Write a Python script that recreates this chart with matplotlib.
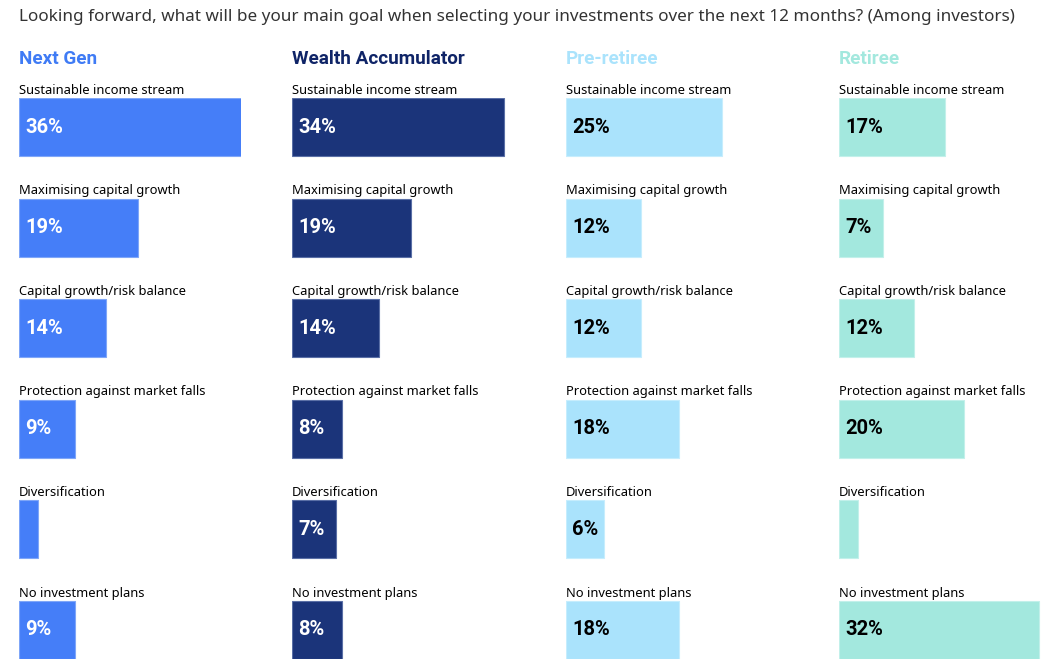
import matplotlib
matplotlib.use("Agg")
import matplotlib.pyplot as plt

plt.rcParams['font.family'] = ['Noto Sans', 'DejaVu Sans']

title = "Looking forward, what will be your main goal when selecting your investments over the next 12 months? (Among investors)"
categories = ["Sustainable income stream", "Maximising capital growth", "Capital growth/risk balance",
              "Protection against market falls", "Diversification", "No investment plans"]
segments = ["Next Gen", "Wealth Accumulator", "Pre-retiree", "Retiree"]
next_gen = [36, 19, 14, 9, 3, 9]
wealth_acc = [34, 19, 14, 8, 7, 8]
pre_retiree = [25, 12, 12, 18, 6, 18]
retiree = [17, 7, 12, 20, 3, 32]
values = [next_gen, wealth_acc, pre_retiree, retiree]

bar_colors = ["#457EF8", "#1B347A", "#AAE3FC", "#A3E8DE"]
edge_colors = ["#7FA6F8", "#5A6FA6", "#C6EDFD", "#C2F0EA"]
head_colors = ["#3F7BF5", "#0F2467", "#AAE3FC", "#A3E8DE"]
val_colors = ["white", "white", "black", "black"]
bold_family = ['Roboto', 'DejaVu Sans']

W, H = 1062, 668
fig = plt.figure(figsize=(W / 100, H / 100), dpi=100)

fig.text(19 / W, 1 - 9 / H, title, ha='left', va='top', fontsize=12.3, color='#333333')

lefts = [19, 292, 566, 839]
ax_w = 222
px_per = 6.25
top_px, bot_px = 98, 659
bh = 0.577
for k in range(4):
    ax = fig.add_axes([lefts[k] / W, 1 - bot_px / H, ax_w / W, (bot_px - top_px) / H])
    ax.set_xlim(0, ax_w / px_per)
    ax.set_ylim(5 + bh / 2, -bh / 2)
    ax.axis('off')
    ax.barh(range(6), values[k], height=bh, color=bar_colors[k], edgecolor=edge_colors[k],
            linewidth=0.8, align='center')
    for i, v in enumerate(values[k]):
        ax.annotate(categories[i], xy=(0, i - bh / 2), xytext=(0, 1), textcoords='offset points',
                    ha='left', va='bottom', fontsize=9.3, color='black', annotation_clip=False)
        if v >= 5:
            ax.annotate(f"{v}%", xy=(0, i), xytext=(4.3, 0), textcoords='offset points',
                        ha='left', va='center', fontsize=14.5, fontweight='bold',
                        family=bold_family, color=val_colors[k], annotation_clip=False)
    fig.text(lefts[k] / W, 1 - 64 / H, segments[k], ha='left', va='baseline',
             fontsize=13.6, fontweight='bold', family=bold_family, color=head_colors[k])

fig.savefig("out.png", dpi=100)
